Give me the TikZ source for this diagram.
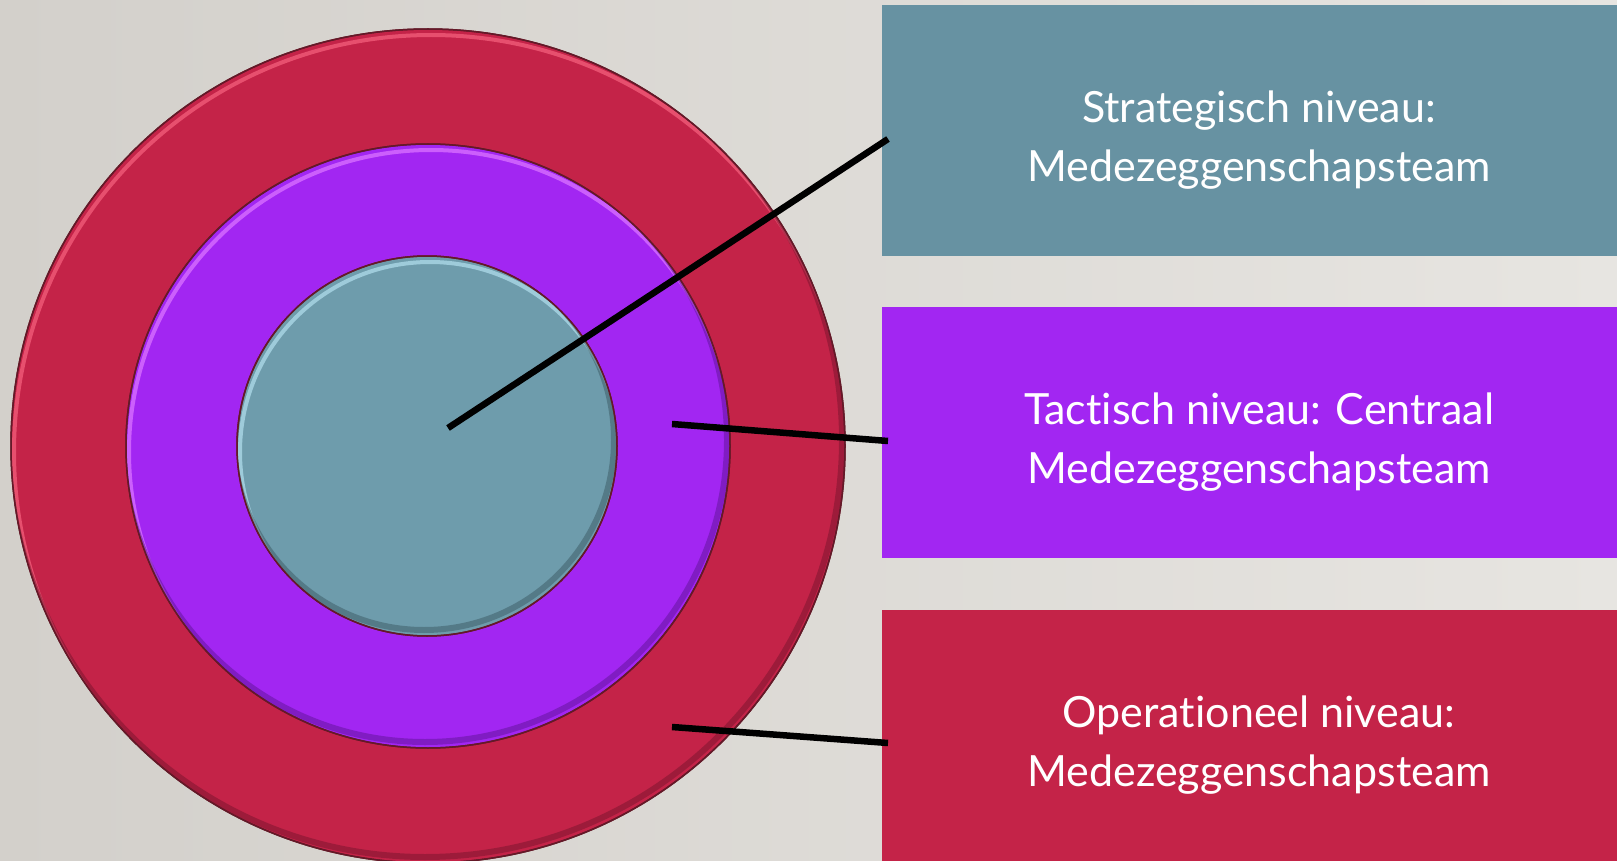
\documentclass[tikz,border=0pt]{standalone}
\usepackage{fontspec}
\setmainfont{Lato}[Ligatures={NoCommon,NoRequired,NoContextual}]
\definecolor{bgL}{RGB}{211,208,203}
\definecolor{bgR}{RGB}{231,229,225}
\definecolor{tealbox}{RGB}{103,146,162}
\definecolor{tealc}{RGB}{110,156,172}
\definecolor{tealhi}{RGB}{170,215,230}
\definecolor{tealsh}{RGB}{60,90,100}
\definecolor{purp}{RGB}{162,38,242}
\definecolor{purphi}{RGB}{215,110,255}
\definecolor{purpsh}{RGB}{95,20,150}
\definecolor{redc}{RGB}{196,35,72}
\definecolor{redhi}{RGB}{240,90,120}
\definecolor{redsh}{RGB}{120,20,45}
\definecolor{rimc}{RGB}{100,25,40}
\tikzset{
  ring/.style={circle, inner sep=0pt, draw=rimc, line width=1.5},
  boxnode/.style={rectangle, inner sep=0pt, minimum width=756, minimum height=251},
  boxtext/.style={text=white, align=center, inner sep=0pt, font=\fontsize{43}{59}\selectfont},
  leader/.style={line width=6.5, black, line cap=butt}
}
\begin{document}
\begin{tikzpicture}[x=1pt,y=-1pt]
\useasboundingbox (0,0) rectangle (1617,861);
\shade[left color=bgL,right color=bgR] (0,0) rectangle (1617,861);

% outer ring
\node[ring, fill=redc, minimum size=834] (outer) at (428,446) {};
\begin{scope}
  \clip (428,446) circle[radius=417];
  \draw[line width=4, redhi, opacity=0.8] (431,452) circle[radius=417];
  \draw[line width=6, redsh, opacity=0.5] (425,440) circle[radius=417];
\end{scope}
\draw[rimc, line width=1.5] (outer.center) circle[radius=417];

% middle ring
\node[ring, fill=purp, minimum size=604] (middle) at (428,446) {};
\begin{scope}
  \clip (428,446) circle[radius=302];
  \draw[line width=4, purphi, opacity=0.8] (431,452) circle[radius=302];
  \draw[line width=6, purpsh, opacity=0.5] (425,440) circle[radius=302];
\end{scope}
\draw[rimc, line width=1.5] (middle.center) circle[radius=302];

% inner disc
\node[ring, fill=tealc, minimum size=380] (inner) at (427,446) {};
\begin{scope}
  \clip (427,446) circle[radius=190];
  \draw[line width=4, tealhi, opacity=0.8] (430,452) circle[radius=190];
  \draw[line width=6, tealsh, opacity=0.5] (424,440) circle[radius=190];
\end{scope}
\draw[rimc, line width=1.5] (inner.center) circle[radius=190];

% boxes
\node[boxnode, fill=tealbox, anchor=north west] (b1) at (882,5) {};
\node[boxnode, fill=purp, anchor=north west] (b2) at (882,307) {};
\node[boxnode, fill=redc, anchor=north west] (b3) at (882,610) {};

\node[boxtext] (t1) at (1259,140) {Strategisch niveau:\\Medezeggenschapsteam};
\node[boxtext] (t2) at (1259,442) {Tactisch niveau: Centraal\\Medezeggenschapsteam};
\node[boxtext] (t3) at (1259,745) {Operationeel niveau:\\Medezeggenschapsteam};

% leader lines
\coordinate (s1) at (448,428);
\coordinate (e1) at (888,139);
\coordinate (s2) at (672,424);
\coordinate (e2) at (888,441);
\coordinate (s3) at (672,727);
\coordinate (e3) at (888,743);
\draw[leader] (s1) -- (e1);
\draw[leader] (s2) -- (e2);
\draw[leader] (s3) -- (e3);
\end{tikzpicture}
\end{document}
